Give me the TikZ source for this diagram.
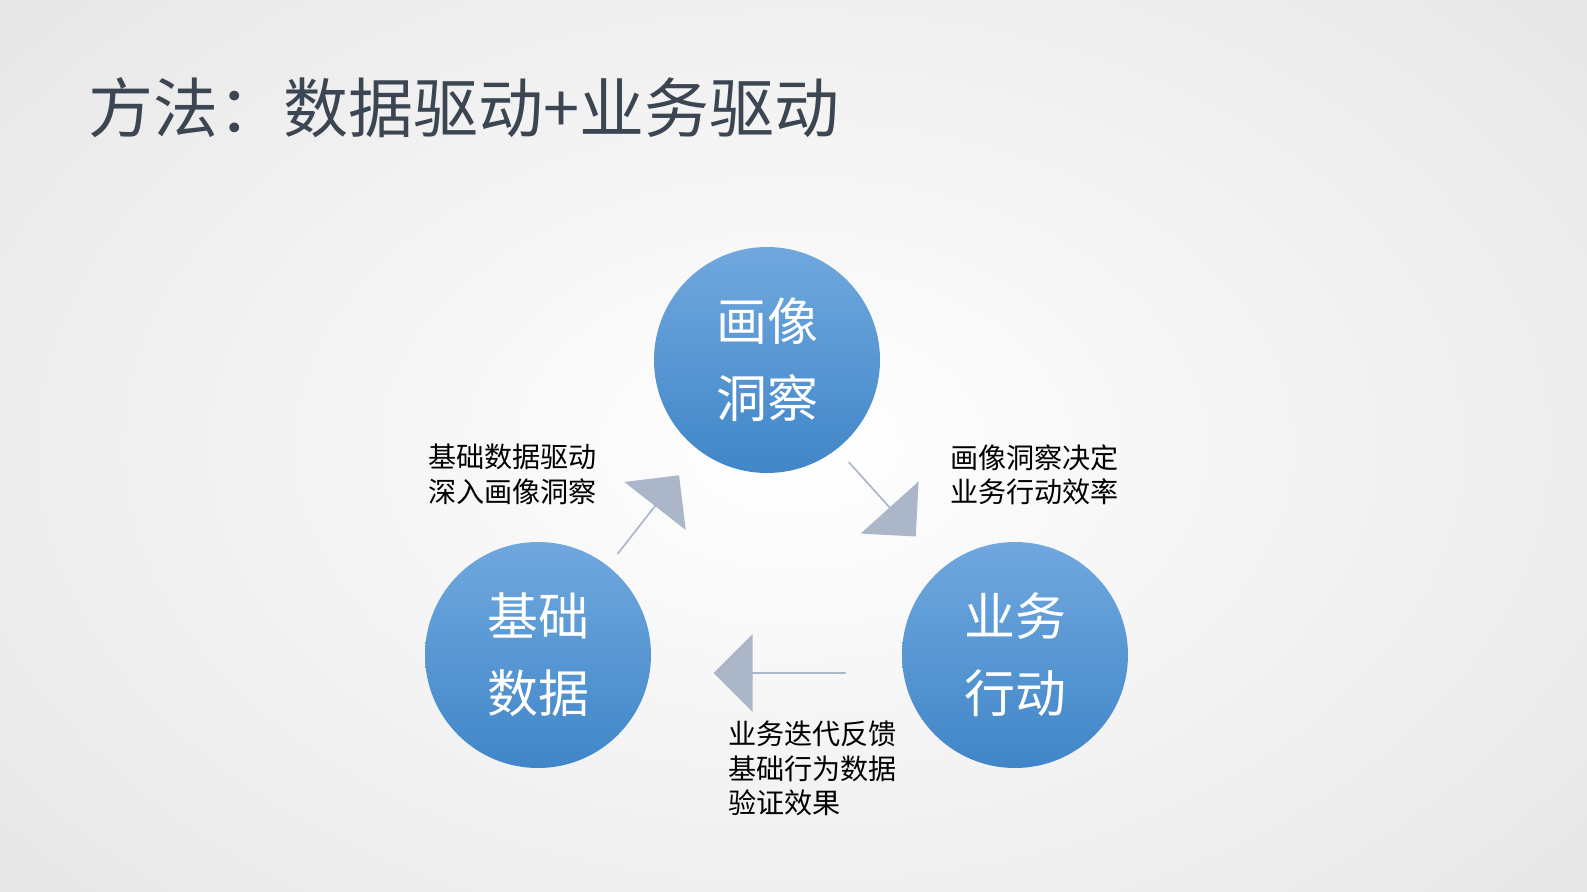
\documentclass[tikz,border=0pt]{standalone}
\usepackage{fontspec}
\setmainfont{Noto Sans CJK SC}
\usetikzlibrary{shapes.arrows}
\definecolor{arr}{HTML}{ABB6C8}
\definecolor{ttl}{HTML}{3C4552}
\tikzset{
 bub/.style={circle,minimum size=226*0.02cm,inner sep=0pt,top color=blue!20!cyan!40!blue!55!white!90!black,bottom color=blue!20!cyan!40!blue!75!white!80!black,text=white,font=\fontsize{29}{44}\selectfont,align=center},
 barrow/.style={single arrow,fill=arr,draw=none,minimum height=#1*0.02cm,minimum width=78*0.02cm,single arrow head extend=16*0.02cm,inner sep=0pt},
 lbl/.style={font=\fontsize{16}{19.5}\selectfont,align=left,text=black}
}
\begin{document}
\begin{tikzpicture}[x=0.02cm,y=-0.02cm]
\useasboundingbox (0,0) rectangle (1587,892);
\shade[inner color=white,outer color=gray!18] (-200,-200) rectangle (1787,1092);
\node[anchor=west,text=ttl,font=\fontsize{37}{40}\selectfont] (title) at (82,108) {方法：数据驱动+业务驱动};
\node[bub,top color={rgb,255:red,112;green,168;blue,222},bottom color={rgb,255:red,64;green,134;blue,200}] (top) at (767,360) {画像\\洞察};
\node[bub,top color={rgb,255:red,112;green,168;blue,222},bottom color={rgb,255:red,64;green,134;blue,200}] (left) at (538,655) {基础\\数据};
\node[bub,top color={rgb,255:red,112;green,168;blue,222},bottom color={rgb,255:red,64;green,134;blue,200}] (right) at (1015,655) {业务\\行动};
\node[barrow=132,shape border rotate=180] (a1) at (780,673) {};
\node[barrow=100,rotate=52] (a2) at (648,515) {};
\node[barrow=100,rotate=-48] (a3) at (882,499) {};
\node[lbl,anchor=north west] (l1) at (422,438) {基础数据驱动\\深入画像洞察};
\node[lbl,anchor=north west] (l2) at (944,438) {画像洞察决定\\业务行动效率};
\node[lbl,anchor=north west] (l3) at (722,715) {业务迭代反馈\\基础行为数据\\验证效果};
\end{tikzpicture}
\end{document}
